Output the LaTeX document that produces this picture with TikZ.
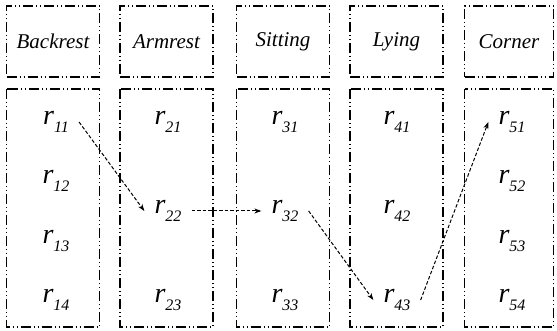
\documentclass[tikz,border=0pt]{standalone}
\usepackage{fontspec}
\setmainfont{Liberation Serif}[ItalicFont={Liberation Serif Italic}]
\usetikzlibrary{arrows.meta,positioning,calc}
\newcommand{\rlab}[1]{\fontsize{28}{30}\selectfont\itshape r\raisebox{-0.62ex}{\fontsize{16}{18}\selectfont #1}}
\tikzset{
  colbox/.style={draw=black,line width=1.1pt,dash pattern=on 10pt off 3pt on 1pt off 3pt on 1pt off 3pt},
  headbox/.style={colbox,minimum width=93pt,minimum height=71pt,inner sep=0pt,font=\fontsize{21}{25}\selectfont\itshape},
  rnode/.style={inner sep=10pt},
  jump/.style={black,line width=1pt,dash pattern=on 3.5pt off 2pt,-{Stealth[length=7pt,width=5pt]}}
}

\begin{document}
\begin{tikzpicture}[x=1pt,y=-1pt]
  \useasboundingbox (0,0) rectangle (557,331);
  % header row
  \node[headbox] (hback) at (53,41.5) {Backrest};
  \node[headbox] (harm) at (166.5,41.5) {Armrest};
  \node[headbox] (hsit) at (283,41.5) {Sitting};
  \node[headbox] (hlie) at (396.5,41.5) {Lying};
  \node[headbox,minimum width=89pt] (hcor) at (509,41.5) {Corner};
  % state columns
  \draw[colbox] (6.5,89) rectangle (99.5,327);
  \draw[colbox] (120,89) rectangle (213,327);
  \draw[colbox] (236.5,89) rectangle (329.5,327);
  \draw[colbox] (350,89) rectangle (443,327);
  \draw[colbox] (464.5,89) rectangle (553.5,327);
  % states
  \node[rnode] (r11) at (56,122) {\rlab{11}};
  \node[rnode] (r12) at (56,181) {\rlab{12}};
  \node[rnode] (r13) at (56,241) {\rlab{13}};
  \node[rnode] (r14) at (56,300) {\rlab{14}};
  \node[rnode] (r21) at (168,122) {\rlab{21}};
  \node[rnode] (r22) at (168,211) {\rlab{22}};
  \node[rnode] (r23) at (168,300) {\rlab{23}};
  \node[rnode] (r31) at (285,122) {\rlab{31}};
  \node[rnode] (r32) at (285,211) {\rlab{32}};
  \node[rnode] (r33) at (285,300) {\rlab{33}};
  \node[rnode] (r41) at (397,122) {\rlab{41}};
  \node[rnode] (r42) at (397,211) {\rlab{42}};
  \node[rnode] (r43) at (397,300) {\rlab{43}};
  \node[rnode] (r51) at (512,122) {\rlab{51}};
  \node[rnode] (r52) at (512,181) {\rlab{52}};
  \node[rnode] (r53) at (512,241) {\rlab{53}};
  \node[rnode] (r54) at (512,300) {\rlab{54}};
  % path
  \draw[jump] (r11.east) -- (r22.west);
  \draw[jump] (r22.east) -- (r32.west);
  \draw[jump] (r32.east) -- (r43.west);
  \draw[jump] (r43.east) -- (r51.west);
\end{tikzpicture}
\end{document}
